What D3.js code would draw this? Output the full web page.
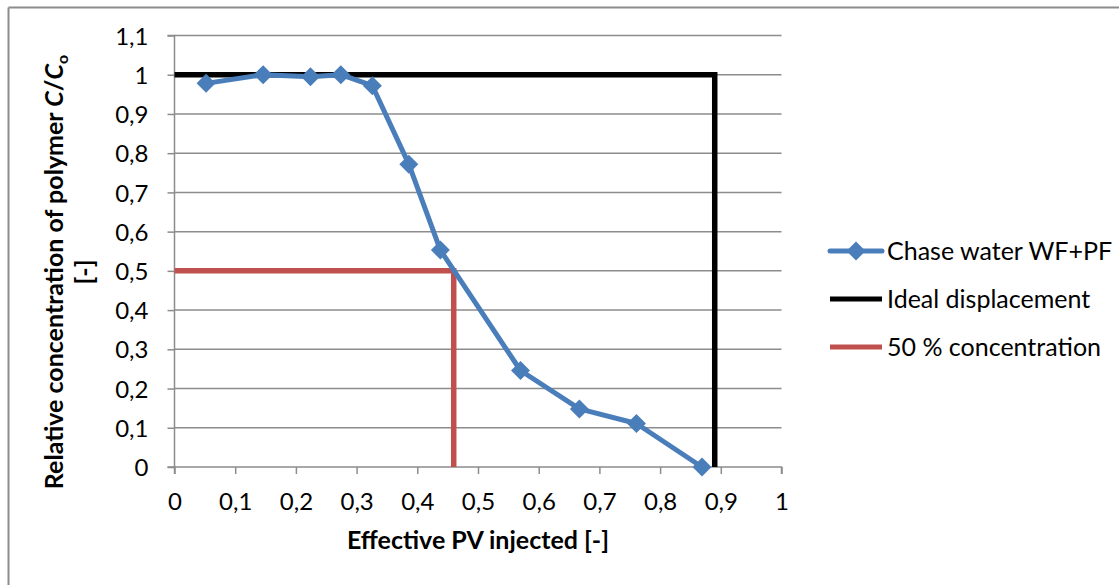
<!DOCTYPE html>
<html>
<head>
<meta charset="utf-8">
<script src="https://cdn.jsdelivr.net/npm/d3@7"></script>
<style>
  html, body { margin: 0; padding: 0; background: #fff; }
  svg text { font-family: Lato, "Noto Sans", sans-serif; fill: #000; }
</style>
</head>
<body>
<svg id="chart" width="1119" height="585"></svg>
<script>
// Polymer breakthrough: relative concentration vs. effective pore volume injected
const pvInjected = [0.052, 0.146, 0.224, 0.274, 0.326, 0.386, 0.438, 0.570, 0.667, 0.761, 0.869];
const relConc    = [0.978, 1.000, 0.995, 1.000, 0.972, 0.772, 0.553, 0.246, 0.148, 0.111, 0.000];

// Ideal (piston-like) displacement and 50 % concentration reference lines
const idealX = [0, 0.89, 0.89];
const idealY = [1, 1, 0];
const halfX  = [0, 0.46, 0.46];
const halfY  = [0.5, 0.5, 0];

const xTicks = [0, 0.1, 0.2, 0.3, 0.4, 0.5, 0.6, 0.7, 0.8, 0.9, 1];
const yTicks = [0, 0.1, 0.2, 0.3, 0.4, 0.5, 0.6, 0.7, 0.8, 0.9, 1, 1.1];

const seriesNames = ["Chase water WF+PF", "Ideal displacement", "50 % concentration"];
const seriesColors = ["#4a7ebb", "#000000", "#c0504d"];

const svg = d3.select("#chart");
const fmt = d => String(d).replace(".", ",");
const gridGray = "#8c8c8c";

// Outer frame (top and left edges)
svg.append("line").attr("x1", 8.5).attr("x2", 1119).attr("y1", 7.5).attr("y2", 7.5)
  .attr("stroke", gridGray).attr("stroke-width", 2);
svg.append("line").attr("x1", 8.5).attr("x2", 8.5).attr("y1", 7.5).attr("y2", 585)
  .attr("stroke", gridGray).attr("stroke-width", 2);

const x = d3.scaleLinear().domain([0, 1]).range([174.5, 781.5]);
const y = d3.scaleLinear().domain([0, 1.1]).range([467, 35.5]);

// Horizontal gridlines
svg.append("g").selectAll("line").data(yTicks.filter(d => d > 0)).join("line")
  .attr("x1", x(0)).attr("x2", x(1))
  .attr("y1", d => y(d)).attr("y2", d => y(d))
  .attr("stroke", gridGray).attr("stroke-width", 1.5);

// Axes
const yAxis = d3.axisLeft(y).tickValues(yTicks).tickFormat(fmt).tickSize(7).tickPadding(19);
const gy = svg.append("g").attr("transform", `translate(${x(0)},0)`).call(yAxis);
const xAxis = d3.axisBottom(x).tickValues(xTicks).tickFormat(fmt).tickSize(7).tickPadding(19);
const gx = svg.append("g").attr("transform", `translate(0,${y(0)})`).call(xAxis);
[gx, gy].forEach(g => {
  g.select(".domain").attr("stroke", gridGray).attr("stroke-width", 1.5);
  g.selectAll(".tick line").attr("stroke", gridGray).attr("stroke-width", 1.5);
  g.selectAll(".tick text").attr("font-size", 24).attr("font-family", "Lato, sans-serif").attr("fill", "#000");
});
gy.select(".domain").attr("d", `M-7,${y(1.1)}H0V${y(0)}H-7`);
gx.select(".domain").attr("d", `M${x(0)},7V0H${x(1)}V7`);
gy.selectAll(".tick text").attr("dy", "0.36em");

const line = d3.line().x(d => x(d[0])).y(d => y(d[1]));

// Reference lines
svg.append("path").datum(halfX.map((v, i) => [v, halfY[i]]))
  .attr("d", line).attr("fill", "none").attr("stroke", seriesColors[2]).attr("stroke-width", 5.5);
svg.append("path").datum(idealX.map((v, i) => [v, idealY[i]]))
  .attr("d", line).attr("fill", "none").attr("stroke", seriesColors[1]).attr("stroke-width", 5.5);

// Measured series with diamond markers
const pts = pvInjected.map((v, i) => [v, relConc[i]]);
svg.append("path").datum(pts).attr("d", line).attr("fill", "none")
  .attr("stroke", seriesColors[0]).attr("stroke-width", 5).attr("stroke-linejoin", "round");
const marker = d3.symbol().type(d3.symbolSquare).size(180);
svg.append("g").selectAll("path").data(pts).join("path")
  .attr("transform", d => `translate(${x(d[0])},${y(d[1])}) rotate(45)`)
  .attr("d", marker)
  .attr("fill", seriesColors[0]);

// Axis titles
svg.append("text").attr("x", (x(0) + x(1)) / 2).attr("y", 549).attr("text-anchor", "middle")
  .attr("font-size", 25).attr("font-weight", "bold").text("Effective PV injected [-]");

const yt = svg.append("text").attr("transform", "translate(63,272) rotate(-90)")
  .attr("text-anchor", "middle").attr("font-size", 25).attr("font-weight", "bold");
yt.append("tspan").text("Relative concentration of polymer ");
yt.append("tspan").attr("font-style", "italic").text("C");
yt.append("tspan").text("/");
yt.append("tspan").attr("font-style", "italic").text("C");
yt.append("tspan").attr("font-size", 16).attr("dy", 5).text("o");
svg.append("text").attr("transform", "translate(93,272) rotate(-90)")
  .attr("text-anchor", "middle").attr("font-size", 25).attr("font-weight", "bold").text("[-]");

// Legend
const legY = [251, 299, 347];
const lg = svg.append("g");
seriesNames.forEach((name, i) => {
  lg.append("line").attr("x1", 830).attr("x2", 882).attr("y1", legY[i]).attr("y2", legY[i])
    .attr("stroke", seriesColors[i]).attr("stroke-width", 5)
    .attr("stroke-linecap", i === 0 ? "round" : "butt");
  if (i === 0) {
    lg.append("path").attr("transform", `translate(856,${legY[i]}) rotate(45)`)
      .attr("d", marker).attr("fill", seriesColors[0]);
  }
  lg.append("text").attr("x", 887).attr("y", legY[i]).attr("dy", "0.36em")
    .attr("font-size", 25).text(name);
});
</script>
</body>
</html>
